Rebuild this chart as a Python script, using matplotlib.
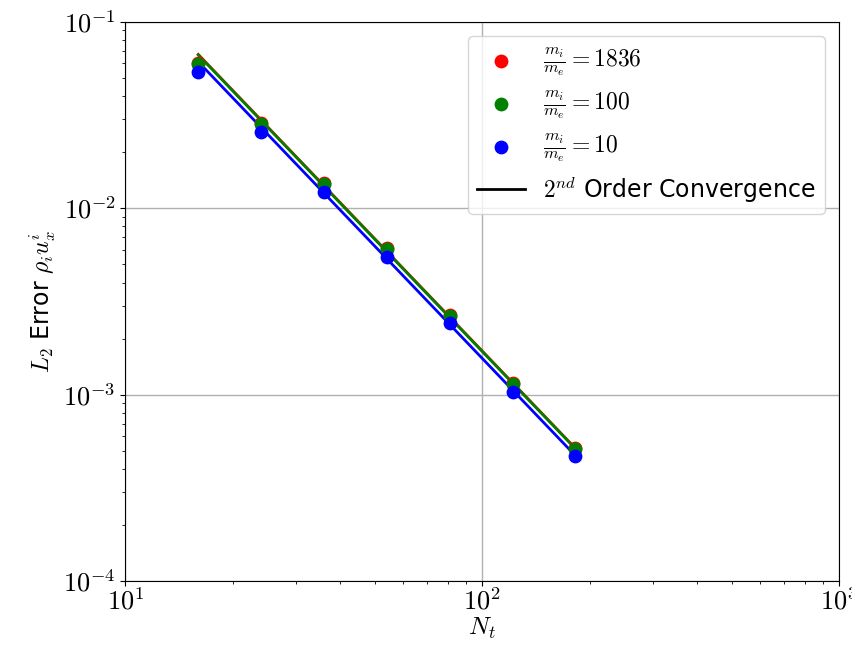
import numpy as np
import matplotlib
matplotlib.use("Agg")
import matplotlib.pyplot as plt
from matplotlib.ticker import FuncFormatter

plt.rcParams["mathtext.fontset"] = "cm"
plt.rcParams["font.family"] = ["DejaVu Sans"]

# number of time steps
N_t = [16, 24, 36, 54, 81, 121.5, 182.25]

# L2 error for each mass ratio
err_1836 = [0.0602, 0.0287, 0.0137, 0.00612, 0.00268, 0.00116, 0.000516]
err_100 = [0.0595, 0.0284, 0.01353, 0.00607, 0.00265, 0.001146, 0.000513]
err_10 = [0.0540, 0.0257, 0.01226, 0.00549, 0.00243, 0.001038, 0.000471]

labels = [r"$\frac{m_i}{m_e} = 1836$", r"$\frac{m_i}{m_e} = 100$", r"$\frac{m_i}{m_e} = 10$"]
colors = ["red", "green", "blue"]

fig, ax = plt.subplots(figsize=(8.53, 6.45), dpi=100)
fig.subplots_adjust(left=0.147, right=0.984, top=0.966, bottom=0.099)

N = np.array(N_t)
for err, lab, c in zip([err_1836, err_100, err_10], labels, colors):
    # 2nd order reference line anchored at the finest resolution
    ref = err[-1] * (N[-1] / N) ** 2
    ax.loglog(N, ref, color=c, lw=2, zorder=2)
    ax.scatter(N, err, color=c, s=80, label=lab, zorder=3)

ax.plot([], [], color="black", lw=2, label=r"$2^{nd}$ Order Convergence")

ax.set_xlim(10, 1000)
ax.set_ylim(1e-4, 1e-1)
pow_fmt = FuncFormatter(lambda v, pos: r"$10^{%d}$" % round(np.log10(v)))
ax.xaxis.set_major_formatter(pow_fmt)
ax.yaxis.set_major_formatter(pow_fmt)
ax.grid(which="major", color="#b0b0b0", lw=1)
ax.tick_params(which="both", labelsize=19)
ax.tick_params(axis="x", pad=2)
ax.set_xlabel(r"$N_t$", fontsize=18, labelpad=0)
ax.set_ylabel(r"$L_2$ Error $\rho_i u_x^i$", fontsize=17, labelpad=4)
ax.legend(loc="upper right", fontsize=17, handlelength=2, labelspacing=0.45,
          borderaxespad=0.6, framealpha=0.8)

fig.savefig("out.png", dpi=100)
